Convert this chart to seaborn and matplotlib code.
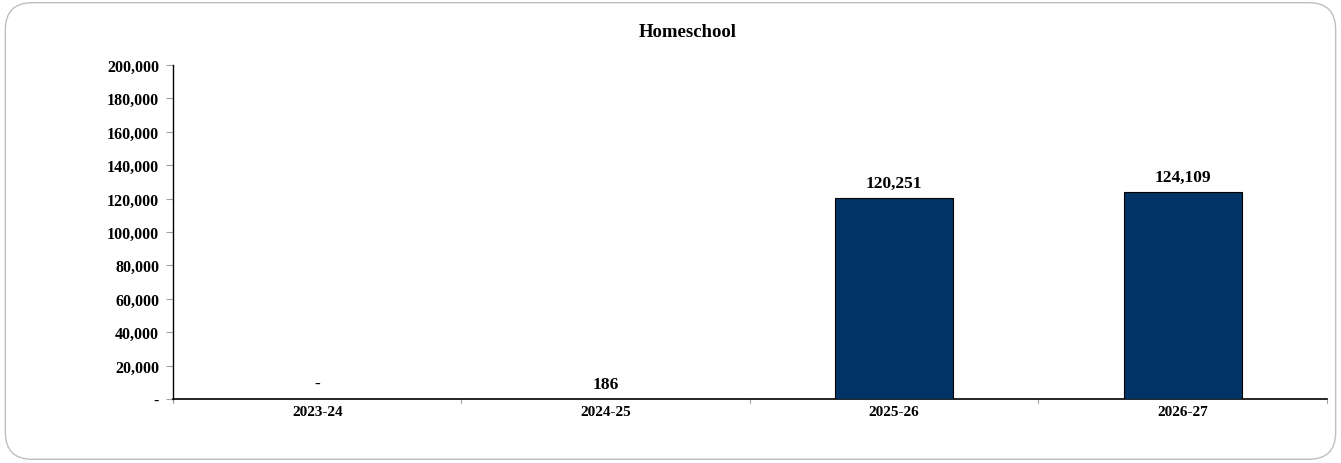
import matplotlib
matplotlib.use("Agg")
import matplotlib.pyplot as plt
from matplotlib.patches import FancyBboxPatch
from matplotlib.ticker import FuncFormatter, FixedLocator
import seaborn as sns
import pandas as pd

# du lieu
years = ["2023-24", "2024-25", "2025-26", "2026-27"]
values = [0, 186, 120251, 124109]

df = pd.DataFrame({"year": years, "value": values})

sns.set_style("white")
plt.rcParams['font.family'] = ['Liberation Serif', 'DejaVu Serif']
plt.rcParams['font.weight'] = 'bold'
plt.rcParams['text.color'] = 'black'
plt.rcParams['xtick.labelcolor'] = 'black'
plt.rcParams['ytick.labelcolor'] = 'black'

fig = plt.figure(figsize=(13.41, 4.64), dpi=100)
# khung bo tron
fig.patches.append(FancyBboxPatch((0.004, 0.008), 0.992, 0.984, boxstyle="round,pad=0,rounding_size=0.02",
                                  transform=fig.transFigure, facecolor="white", edgecolor="#bfbfbf",
                                  linewidth=1, mutation_aspect=13.41 / 4.64, zorder=-10))
ax = fig.add_axes([0.129, 0.138, 0.8605, 0.72])
ax.set_facecolor("none")

sns.barplot(data=df, x="year", y="value", color="#003366", width=0.41, edgecolor="black",
            linewidth=0.8, saturation=1, ax=ax, zorder=3)

ax.set_ylim(0, 200000)
ax.set_xlim(-0.5, len(years) - 0.5)
ax.set_yticks(range(0, 200001, 20000))
ax.yaxis.set_major_formatter(FuncFormatter(lambda v, p: "-" if v == 0 else f"{int(v):,}"))
ax.xaxis.set_major_locator(FixedLocator([i for i in range(len(years))]))
ax.set_xticklabels(years)
ax.tick_params(axis="x", length=0, pad=4, labelsize=11)
ax.tick_params(axis="y", length=5, color="#a0a0a0", labelsize=11.5, pad=5, left=True)
# vach chia giua cac nhom
for b in [i - 0.5 for i in range(len(years) + 1)]:
    ax.plot([b, b], [0, -0.012], transform=ax.get_xaxis_transform(), color="#a0a0a0",
            linewidth=0.8, clip_on=False)
for lbl in ax.get_xticklabels() + ax.get_yticklabels():
    lbl.set_fontweight("bold")

ax.set_xlabel("")
ax.set_ylabel("")
fig.text(0.513, 0.929, "Homeschool", fontsize=13.5, fontweight="bold", ha="center", va="center")
sns.despine(ax=ax, top=True, right=True)
ax.spines["left"].set_linewidth(1)
ax.spines["left"].set_color("black")
ax.spines["bottom"].set_linewidth(1.2)
ax.spines["bottom"].set_color("black")

for i, v in enumerate(values):
    ax.annotate("-" if v == 0 else f"{v:,}", (i, v), xytext=(0, 5), textcoords="offset points",
                ha="center", va="bottom", fontsize=12.5, fontweight="bold")

fig.savefig("out.png", dpi=100)
